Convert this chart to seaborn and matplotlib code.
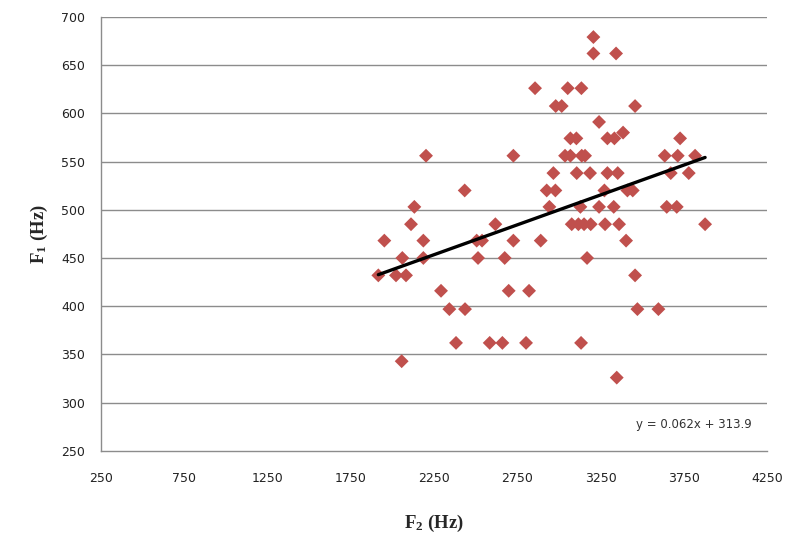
import numpy as np
import pandas as pd
import matplotlib
matplotlib.use("Agg")
import matplotlib.pyplot as plt
import seaborn as sns

# ---- data (F2, F1 in Hz) ----
f1_levels = [679, 662, 626, 607.5, 591, 580, 574, 556, 538, 520, 503, 485, 468, 450, 432, 416, 397, 362, 343, 326]
f2_by_level = [
    [3206],
    [3206, 3342],
    [2856, 3052, 3134],
    [2980, 3016, 3456],
    [3240],
    [3384],
    [3068, 3104, 3290, 3332, 3726],
    [2202, 2726, 3036, 3068, 3136, 3156, 3634, 3712, 3816],
    [2966, 3106, 3186, 3290, 3352, 3670, 3778],
    [2434, 2926, 2978, 3272, 3410, 3442],
    [2132, 2942, 3128, 3240, 3328, 3646, 3706],
    [2112, 2618, 3076, 3116, 3150, 3190, 3276, 3360, 3876],
    [1952, 2186, 2506, 2538, 2726, 2890, 3402],
    [2060, 2186, 2514, 2674, 3168],
    [1916, 2022, 2082, 3456],
    [2292, 2698, 2820],
    [2342, 2436, 3470, 3596],
    [2382, 2584, 2660, 2802, 3132],
    [2056],
    [3346],
]
slope = 0.062
intercept = 313.9
x_ticks = [250, 750, 1250, 1750, 2250, 2750, 3250, 3750, 4250]
y_ticks = [250, 300, 350, 400, 450, 500, 550, 600, 650, 700]

f2 = [x for lvl, xs in zip(f1_levels, f2_by_level) for x in xs]
f1 = [lvl for lvl, xs in zip(f1_levels, f2_by_level) for x in xs]
df = pd.DataFrame({"F2": f2, "F1": f1})

sns.set_theme(style="white")
plt.rcParams["font.family"] = ["DejaVu Sans"]
plt.rcParams["mathtext.fontset"] = "custom"
plt.rcParams["mathtext.bf"] = "Liberation Serif:bold"
plt.rcParams["mathtext.rm"] = "Liberation Serif:bold"

fig = plt.figure(figsize=(7.92, 5.42), dpi=100)
ax = fig.add_axes([0.127, 0.168, 0.842, 0.801])

grid_c = "#8c8c8c"
for yt in y_ticks[1:]:
    ax.axhline(yt, color=grid_c, lw=1.0, zorder=0)

sns.scatterplot(data=df, x="F2", y="F1", marker="D", s=50, color="#C0504D",
                edgecolor="none", linewidth=0, ax=ax, zorder=3)

xs = np.array([min(f2), max(f2)])
line_df = pd.DataFrame({"x": xs, "y": slope * xs + intercept})
sns.lineplot(data=line_df, x="x", y="y", color="black", lw=2.4, ax=ax, zorder=4)

ax.set_xlim(x_ticks[0], x_ticks[-1])
ax.set_ylim(y_ticks[0], y_ticks[-1])
ax.set_xticks(x_ticks)
ax.set_yticks(y_ticks)
ax.tick_params(axis="both", direction="out", length=5, width=1, color=grid_c,
               labelsize=9, labelcolor="#222222", pad=6)
ax.tick_params(axis="x", pad=10)
for side in ["top", "right"]:
    ax.spines[side].set_visible(False)
for side in ["left", "bottom"]:
    ax.spines[side].set_color(grid_c)
    ax.spines[side].set_linewidth(1.0)

ax.set_xlabel(r"$\mathbf{F_2}$ (Hz)", fontsize=13.5, family="Liberation Serif",
              fontweight="bold", labelpad=20)
ax.set_ylabel(r"$\mathbf{F_1}$ (Hz)", fontsize=13.5, family="Liberation Serif",
              fontweight="bold", labelpad=8)

ax.text(0.977, 0.06, f"y = {slope}x + {intercept}", transform=ax.transAxes,
        ha="right", va="center", fontsize=8.5, color="#333333")

fig.savefig("out.png", dpi=100)
